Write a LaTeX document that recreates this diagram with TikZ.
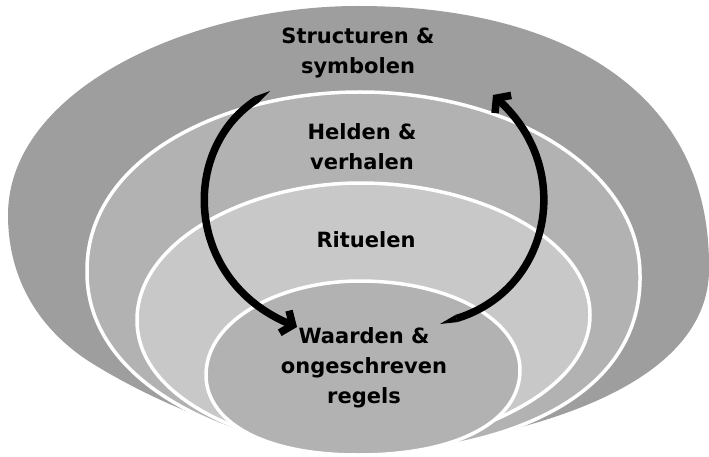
\documentclass[tikz,border=0pt]{standalone}
\usepackage{fontspec}
\setmainfont{DejaVu Sans}
\usetikzlibrary{arrows.meta}
\definecolor{outerc}{RGB}{158,158,158}
\definecolor{secondc}{RGB}{178,178,178}
\definecolor{thirdc}{RGB}{200,200,200}
\definecolor{innerc}{RGB}{178,178,178}
\begin{document}
\begin{tikzpicture}[x=1pt,y=-1pt,
  layer/.style={draw=white, line width=3.5pt, line join=round},
  lbl/.style={align=center, font=\fontsize{21}{30}\selectfont\bfseries, text=black, inner sep=0pt},
  cyc/.style={line width=7.5pt, line cap=butt, -{Straight Barb[length=9pt,width=24pt]}}]
\path[use as bounding box] (0,0) rectangle (709,457);
% outer layer
\fill[outerc] (358,456) .. controls (270,447) and (170,412) .. (90,362)
  .. controls (40,330) and (8,280) .. (8,215)
  .. controls (8,90) and (190,6) .. (358,6)
  .. controls (560,6) and (709,90) .. (709,265)
  .. controls (712,360) and (600,430) .. (358,456) -- cycle;
% second layer
\draw[layer, fill=secondc] (358,455) .. controls (220,445) and (85,380) .. (87,270)
  .. controls (87,160) and (220,92) .. (360,92)
  .. controls (510,92) and (640,170) .. (640,275)
  .. controls (642,380) and (540,448) .. (358,455) -- cycle;
% third layer
\draw[layer, fill=thirdc] (358,455) .. controls (250,445) and (137,400) .. (137,320)
  .. controls (137,240) and (250,183) .. (360,183)
  .. controls (480,183) and (590,240) .. (590,315)
  .. controls (590,390) and (480,440) .. (358,455) -- cycle;
% inner layer
\draw[layer, fill=innerc] (358,455) .. controls (260,455) and (206,420) .. (206,375)
  .. controls (206,320) and (280,281) .. (360,281)
  .. controls (450,281) and (520,320) .. (520,370)
  .. controls (520,420) and (460,455) .. (358,455) -- cycle;
% labels
\node[lbl] (structuren) at (358,53) {Structuren \&\\symbolen};
\node[lbl] (helden) at (362,147) {Helden \&\\verhalen};
\node[lbl] (rituelen) at (366,240) {Rituelen};
\node[lbl] (waarden) at (364,368) {Waarden \&\\ongeschreven\\regels};
% arrow ends
\coordinate (ltail) at (270,91);
\coordinate (ldown1) at (256,100);
\coordinate (ldown2) at (297,327);
\coordinate (rtail) at (440,324);
\coordinate (rup1) at (456.5,318.5);
\coordinate (rup2) at (493,95);
% tapered tails
\fill (ltail) -- (258.1,103.2) -- (253.9,96.8) -- cycle;
\fill (rtail) -- (457.6,322.1) -- (455.4,314.9) -- cycle;
\draw[cyc] (ldown1) .. controls (180,150) and (185,280) .. (ldown2);
\draw[cyc] (rup1) .. controls (550,290) and (575,170) .. (rup2);
\end{tikzpicture}
\end{document}
